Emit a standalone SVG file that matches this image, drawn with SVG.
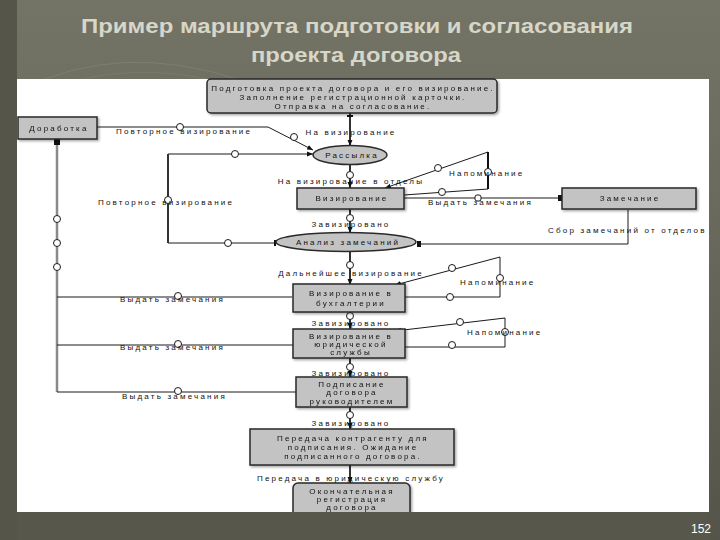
<svg xmlns="http://www.w3.org/2000/svg" width="720" height="540" viewBox="0 0 720 540">
<defs>
<linearGradient id="bg" x1="0" y1="0" x2="0" y2="1">
<stop offset="0" stop-color="#747466"/>
<stop offset="0.5" stop-color="#66665a"/>
<stop offset="1" stop-color="#54544a"/>
</linearGradient>
<marker id="ar" viewBox="0 0 6 6" refX="6" refY="3" markerWidth="6" markerHeight="6" orient="auto" markerUnits="userSpaceOnUse">
<path d="M0,0.5 L6,3 L0,5.5 z" fill="#111"/>
</marker>
<marker id="tk" viewBox="0 0 4 6" refX="4" refY="3" markerWidth="4" markerHeight="6" orient="auto" markerUnits="userSpaceOnUse">
<rect x="0" y="0" width="4" height="6" fill="#111"/>
</marker>
<filter id="sh" x="-5%" y="-10%" width="115%" height="130%">
<feDropShadow dx="1.5" dy="1.5" stdDeviation="0.8" flood-color="#000" flood-opacity="0.35"/>
</filter>
</defs>
<style>
.t{font-family:"Liberation Sans",Arial,sans-serif;font-size:8px;letter-spacing:2.2px;fill:#111}
.m{text-anchor:middle}
.box{fill:#c3c3c3;stroke:#2a2a2a;stroke-width:1.5}
.ln{fill:none;stroke:#1a1a1a;stroke-width:1}
.th{fill:none;stroke:#333;stroke-width:2}
.gr{fill:none;stroke:#8a8a8a;stroke-width:2.5}
.c{fill:#fff;stroke:#1a1a1a;stroke-width:1}
.title{font-family:"Liberation Sans",Arial,sans-serif;font-size:21px;font-weight:bold;fill:#d6d6c9;text-anchor:middle}
</style>

<rect width="720" height="540" fill="url(#bg)"/>
<rect x="0" y="0" width="17" height="540" fill="#55554a"/>
<path d="M20,90 Q120,40 240,80" fill="none" stroke="#8a8a7c" stroke-width="1" opacity="0.5"/>
<path d="M30,95 Q130,55 230,85" fill="none" stroke="#8a8a7c" stroke-width="1" opacity="0.35"/>
<rect x="17" y="79" width="692" height="433" fill="#fff"/>

<text class="title" x="357" y="33" textLength="552" lengthAdjust="spacingAndGlyphs">Пример маршрута подготовки и согласования</text>
<text class="title" x="356" y="62" textLength="210" lengthAdjust="spacingAndGlyphs">проекта договора</text>

<g id="connectors">
<line class="th" x1="350" y1="113" x2="350" y2="146" marker-end="url(#ar)"/>
<line class="th" x1="350" y1="164" x2="350" y2="188" marker-end="url(#ar)"/>
<line class="th" x1="350" y1="209" x2="350" y2="233" marker-end="url(#ar)"/>
<line class="th" x1="350" y1="251" x2="350" y2="285" marker-end="url(#ar)"/>
<line class="th" x1="350" y1="312" x2="350" y2="329" marker-end="url(#ar)"/>
<line class="th" x1="350" y1="358" x2="350" y2="377" marker-end="url(#ar)"/>
<line class="th" x1="350" y1="407" x2="350" y2="429" marker-end="url(#ar)"/>
<line class="th" x1="350" y1="465" x2="350" y2="483" marker-end="url(#ar)"/>
<rect x="347" y="115" width="6" height="2" fill="#111"/>
<circle class="c" cx="350" cy="175" r="3.5"/>
<circle class="c" cx="350" cy="218" r="3.5"/>
<circle class="c" cx="350" cy="265" r="3.5"/>
<circle class="c" cx="350" cy="316" r="3.5"/>
<circle class="c" cx="350" cy="367" r="3.5"/>
<circle class="c" cx="350" cy="415" r="3.5"/>

<polyline class="ln" points="97,127 268,127 313,150" marker-end="url(#ar)"/>
<circle class="c" cx="180" cy="127" r="3.5"/>
<circle class="c" cx="294" cy="137" r="3.5"/>

<polyline class="ln" points="276,243 168,243 168,154 313,154" marker-end="url(#ar)"/>
<line class="th" x1="168" y1="154" x2="168" y2="243"/>
<circle class="c" cx="228" cy="243" r="3.5"/>
<circle class="c" cx="168" cy="200" r="3.5"/>
<circle class="c" cx="235" cy="154" r="3.5"/>
<rect x="274" y="240" width="2" height="6" fill="#111"/>

<line class="ln" x1="404" y1="198" x2="562" y2="198" marker-end="url(#tk)"/>
<rect x="475" y="195" width="6" height="6" rx="2" class="c"/>

<polyline class="ln" points="628,210 628,244 417,244" marker-end="url(#tk)"/>

<polyline class="ln" points="404,195 488,189 488,152 385,188" marker-end="url(#ar)"/>
<line x1="488" y1="152" x2="488" y2="189" stroke="#111" stroke-width="2"/>
<circle class="c" cx="442" cy="192" r="3.5"/>
<circle class="c" cx="488" cy="172" r="3.5"/>
<circle class="c" cx="438" cy="168" r="3.5"/>

<polyline class="ln" points="405,297 500,297 500,257 395,285" marker-end="url(#ar)"/>
<rect x="403" y="293" width="2" height="8" fill="#111"/>
<circle class="c" cx="450" cy="297" r="3.5"/>
<circle class="c" cx="500" cy="278" r="3.5"/>
<circle class="c" cx="452" cy="268" r="3.5"/>

<polyline class="ln" points="405,347 505,347 505,318 395,331" marker-end="url(#ar)"/>
<circle class="c" cx="452" cy="345" r="3.5"/>
<circle class="c" cx="505" cy="332" r="3.5"/>
<circle class="c" cx="460" cy="322" r="3.5"/>

<line class="gr" x1="57" y1="139" x2="57" y2="392"/>
<rect x="54" y="139" width="6" height="6" fill="#111"/>
<line class="ln" x1="292" y1="297" x2="57" y2="297"/>
<line class="ln" x1="293" y1="345" x2="57" y2="345"/>
<line class="ln" x1="296" y1="392" x2="57" y2="392"/>
<circle class="c" cx="57" cy="219" r="3.5"/>
<circle class="c" cx="57" cy="243" r="3.5"/>
<circle class="c" cx="57" cy="267" r="3.5"/>
<circle class="c" cx="178" cy="296" r="3.5"/>
<circle class="c" cx="178" cy="344" r="3.5"/>
<circle class="c" cx="178" cy="391" r="3.5"/>

<text class="t m" x="351" y="135">На визирование</text>
<text class="t" x="116" y="134">Повторное визирование</text>
<text class="t" x="98" y="205">Повторное визирование</text>
<text class="t m" x="351" y="184">На визирование в отделы</text>
<text class="t m" x="351" y="227">Завизировано</text>
<text class="t m" x="351" y="276">Дальнейшее визирование</text>
<text class="t m" x="351" y="326">Завизировано</text>
<text class="t m" x="351" y="376">Завизировано</text>
<text class="t m" x="351" y="426">Завизировано</text>
<text class="t m" x="351" y="481">Передача в юридическую службу</text>
<text class="t" x="449" y="176">Напоминание</text>
<text class="t" x="428" y="205">Выдать замечания</text>
<text class="t" x="548" y="233">Сбор замечаний от отделов</text>
<text class="t" x="460" y="285">Напоминание</text>
<text class="t" x="467" y="335">Напоминание</text>
<text class="t" x="120" y="302">Выдать замечания</text>
<text class="t" x="120" y="350">Выдать замечания</text>
<text class="t" x="122" y="399">Выдать замечания</text>
</g>

<g id="n-podgotovka" filter="url(#sh)">
<rect class="box" x="207" y="79" width="290" height="34" rx="4"/>
<text class="t m" x="353" y="91">Подготовка проекта договора и его визирование.</text>
<text class="t m" x="353" y="100">Заполнение регистрационной карточки.</text>
<text class="t m" x="353" y="109">Отправка на согласование.</text>
</g>
<g id="n-dorabotka" filter="url(#sh)">
<rect class="box" x="18" y="117" width="79" height="22"/>
<text class="t m" x="59" y="131">Доработка</text>
</g>
<g id="n-rassylka">
<ellipse cx="350" cy="155" rx="37" ry="9.5" fill="#c3c3c3" stroke="#2a2a2a" stroke-width="1.5"/>
<text class="t m" x="352" y="158">Рассылка</text>
</g>
<g id="n-vizirovanie" filter="url(#sh)">
<rect class="box" x="297" y="188" width="107" height="21"/>
<text class="t m" x="352" y="201">Визирование</text>
</g>
<g id="n-zamechanie" filter="url(#sh)">
<rect class="box" x="562" y="188" width="134" height="21"/>
<text class="t m" x="630" y="201">Замечание</text>
</g>
<g id="n-analiz">
<ellipse cx="346" cy="242" rx="70" ry="9.5" fill="#c3c3c3" stroke="#2a2a2a" stroke-width="1.5"/>
<text class="t m" x="348" y="245">Анализ замечаний</text>
</g>
<g id="n-buh" filter="url(#sh)">
<rect class="box" x="293" y="284" width="112" height="28"/>
<text class="t m" x="351" y="296">Визирование в</text>
<text class="t m" x="351" y="306">бухгалтерии</text>
</g>
<g id="n-jur" filter="url(#sh)">
<rect class="box" x="293" y="329" width="112" height="29"/>
<text class="t m" x="351" y="339">Визирование в</text>
<text class="t m" x="351" y="347">юридической</text>
<text class="t m" x="351" y="355">службы</text>
</g>
<g id="n-podpisanie" filter="url(#sh)">
<rect class="box" x="296" y="377" width="111" height="30"/>
<text class="t m" x="352" y="387">Подписание</text>
<text class="t m" x="352" y="395">договора</text>
<text class="t m" x="352" y="404">руководителем</text>
</g>
<g id="n-peredacha" filter="url(#sh)">
<rect class="box" x="250" y="429" width="204" height="36"/>
<text class="t m" x="353" y="441">Передача контрагенту для</text>
<text class="t m" x="353" y="450">подписания. Ожидание</text>
<text class="t m" x="353" y="459">подписанного договора.</text>
</g>
<g id="n-registracia" filter="url(#sh)">
<rect class="box" x="293" y="483" width="117" height="34" rx="5"/>
<text class="t m" x="352" y="494">Окончательная</text>
<text class="t m" x="352" y="502">регистрация</text>
<text class="t m" x="352" y="510">договора</text>
</g>
<rect x="17" y="512" width="692" height="28" fill="#57574c"/>
<rect x="0" y="512" width="17" height="28" fill="#55554a"/>
<text x="701" y="533" font-family="Liberation Sans, Arial, sans-serif" font-size="12" fill="#fff" text-anchor="middle">152</text>
</svg>
